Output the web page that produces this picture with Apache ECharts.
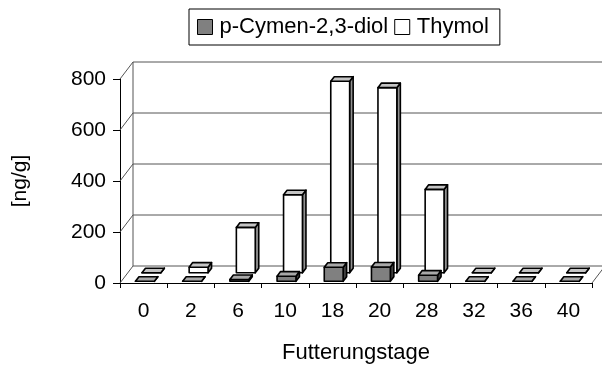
<!DOCTYPE html>
<html><head><meta charset="utf-8">
<script src="https://cdn.jsdelivr.net/npm/echarts@6/dist/echarts.min.js"></script>
<style>html,body{margin:0;padding:0;background:#fff}#c{width:602px;height:369px}</style>
</head><body><div id="c"></div>
<script>
const categories = ['0','2','6','10','18','20','28','32','36','40'];
const cymenValues = [0, 0, 7, 20, 55, 56, 24, 0, 0, 0];
const thymolValues = [0, 22, 178, 306, 751, 726, 327, 0, 0, 0];
const yTicks = [0, 200, 400, 600, 800];

const DX = 13, DY = -17; // depth of the 3D box
const FONT = 'Liberation Sans, Arial, sans-serif';

function barRender(f0, f1, colors) {
  return function (params, api) {
    const cat = api.value(0), val = api.value(1);
    const base = api.coord([cat, 0]);
    const top = api.coord([cat, val]);
    const band = api.size([1, 0])[0];
    const w = band * 0.4;
    const x0 = base[0] - w / 2 + f0 * DX;
    const x1 = x0 + w;
    const yb = base[1] + f0 * DY;
    const yt = top[1] + f0 * DY;
    const bdx = (f1 - f0) * DX, bdy = (f1 - f0) * DY;
    const st = { stroke: '#000', lineWidth: 1.6, lineJoin: 'round' };
    return { type: 'group', children: [
      { type: 'polygon', shape: { points: [[x1, yt], [x1 + bdx, yt + bdy], [x1 + bdx, yb + bdy], [x1, yb]] }, style: Object.assign({}, st, { fill: colors.side }) },
      { type: 'rect', shape: { x: x0, y: yt, width: w, height: yb - yt }, style: Object.assign({}, st, { fill: colors.front }) },
      { type: 'polygon', shape: { points: [[x0, yt], [x1, yt], [x1 + bdx, yt + bdy], [x0 + bdx, yt + bdy]] }, style: Object.assign({}, st, { fill: colors.top }) }
    ]};
  };
}

function wallRender(params, api) {
  const v = api.value(1);
  const cs = params.coordSys;
  const left = cs.x, right = cs.x + cs.width;
  const y = api.coord([0, v])[1];
  const ls = { stroke: '#555', lineWidth: 1 };
  const ch = [
    { type: 'line', shape: { x1: left + DX, y1: y + DY, x2: right + DX, y2: y + DY }, style: ls },
    { type: 'line', shape: { x1: left, y1: y, x2: left + DX, y2: y + DY }, style: ls }
  ];
  if (v === 0) {
    const yTop = api.coord([0, yTicks[yTicks.length - 1]])[1];
    ch.push({ type: 'line', shape: { x1: right, y1: y, x2: right + DX, y2: y + DY }, style: ls });
    ch.push({ type: 'line', shape: { x1: left + DX, y1: y + DY, x2: left + DX, y2: yTop + DY }, style: ls });
  }
  return { type: 'group', children: ch };
}

const chart = echarts.init(document.getElementById('c'), null, { renderer: 'canvas' });
chart.setOption({
  animation: false,
  backgroundColor: '#fff',
  textStyle: { fontFamily: FONT, color: '#000' },
  legend: {
    data: ['p-Cymen-2,3-diol', 'Thymol'],
    left: 189, top: 9,
    itemWidth: 15, itemHeight: 15, itemGap: 6,
    padding: [7, 11, 7, 8],
    borderColor: '#000', borderWidth: 1,
    icon: 'rect',
    itemStyle: { borderColor: '#000', borderWidth: 1 },
    textStyle: { fontFamily: FONT, fontSize: 22, color: '#000', padding: [0, 0, 0, 2] }
  },
  grid: { left: 120, top: 79, right: 10, bottom: 83, containLabel: false },
  xAxis: {
    type: 'category',
    data: categories,
    name: 'Futterungstage',
    nameLocation: 'middle',
    nameGap: 59,
    nameTextStyle: { fontFamily: FONT, fontSize: 22, color: '#000' },
    axisLine: { lineStyle: { color: '#000', width: 1 } },
    axisTick: { show: true, length: 5, lineStyle: { color: '#000' } },
    axisLabel: { fontFamily: FONT, fontSize: 21, color: '#000', margin: 18 }
  },
  yAxis: {
    type: 'value',
    min: 0, max: 800, interval: 200,
    name: '[ng/g]',
    nameLocation: 'middle',
    nameGap: 89,
    nameTextStyle: { fontFamily: FONT, fontSize: 21, color: '#000' },
    axisLine: { show: true, lineStyle: { color: '#000', width: 1 } },
    axisTick: { show: true, length: 7, lineStyle: { color: '#000' } },
    axisLabel: { fontFamily: FONT, fontSize: 21, color: '#000', margin: 14 },
    splitLine: { show: false }
  },
  series: [
    {
      name: 'walls', type: 'custom', z: 1, silent: true, clip: false,
      renderItem: wallRender,
      encode: { x: 0, y: 1 },
      data: yTicks.map(v => [0, v])
    },
    {
      name: 'p-Cymen-2,3-diol', type: 'custom', z: 3, clip: false,
      itemStyle: { color: '#808080' },
      renderItem: barRender(0.1, 0.37, { front: '#808080', top: '#a8a8a8', side: '#404040' }),
      encode: { x: 0, y: 1 },
      data: cymenValues.map((v, i) => [i, v])
    },
    {
      name: 'Thymol', type: 'custom', z: 2, clip: false,
      itemStyle: { color: '#ffffff' },
      renderItem: barRender(0.6, 0.87, { front: '#ffffff', top: '#c4c4c4', side: '#909090' }),
      encode: { x: 0, y: 1 },
      data: thymolValues.map((v, i) => [i, v])
    }
  ]
});
</script></body></html>
